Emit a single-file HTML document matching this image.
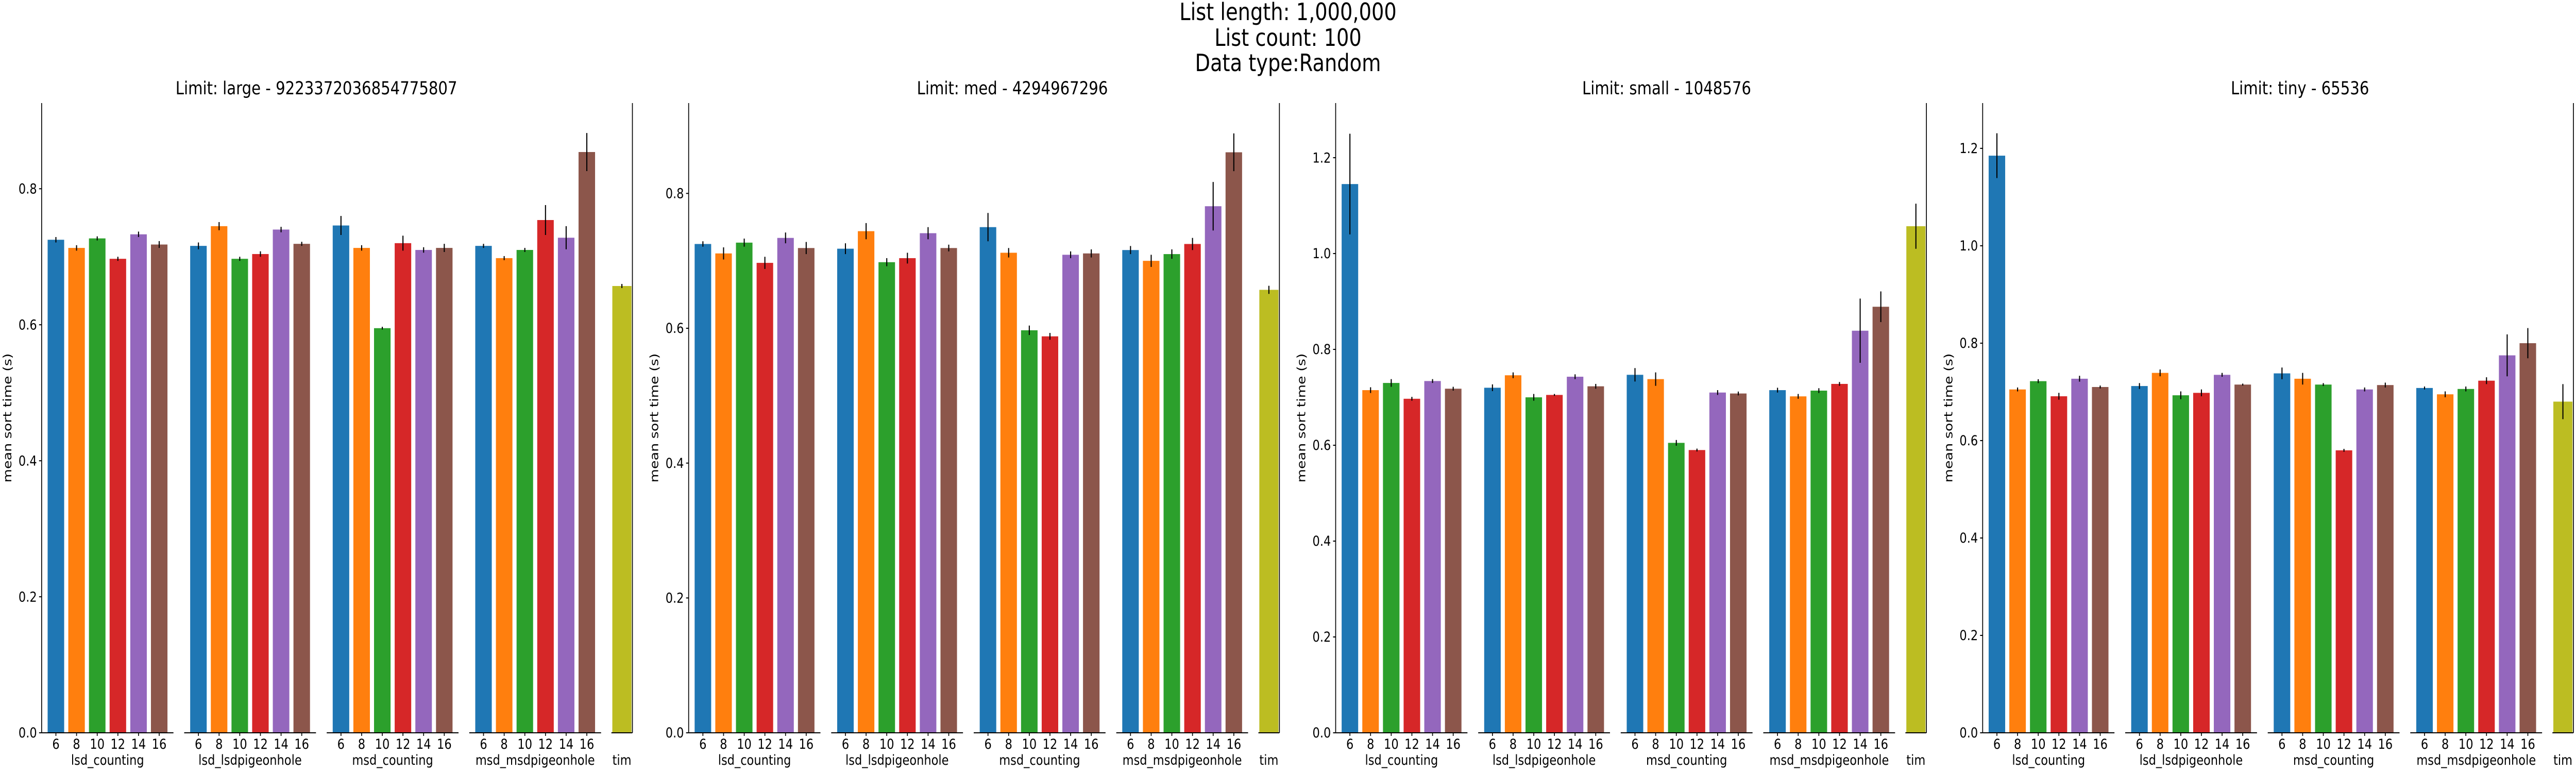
<!DOCTYPE html>
<html><head><meta charset="utf-8"><title>Sort timing chart</title>
<style>
html,body{margin:0;padding:0;background:#fff;overflow:hidden;width:100%;height:100%;}
svg{display:block;width:100vw;height:100vh;font-family:"DejaVu Sans","Liberation Sans",sans-serif;}
</style></head>
<body>
<svg id="chart" viewBox="0 0 6000 1500" preserveAspectRatio="none" xmlns="http://www.w3.org/2000/svg">
<g font-size="46" text-anchor="middle" fill="#000">
<text x="3000" y="39">List length: 1,000,000</text>
<text x="3000" y="89">List count: 100</text>
<text x="3000" y="138">Data type:Random</text>
</g>
</svg>
<script>
const algos = ['lsd_counting','lsd_lsdpigeonhole','msd_counting','msd_msdpigeonhole'];
const radixBits = ['6','8','10','12','14','16'];
const timLabel = 'tim';
const panelTitles = ['Limit: large - 9223372036854775807','Limit: med - 4294967296','Limit: small - 1048576','Limit: tiny - 65536'];
const panelKeys = ['large','med','small','tiny'];
const yMax = [0.926, 0.934, 1.314, 1.293];
const yTicksLarge = [0.0,0.2,0.4,0.6,0.8];
const yTicksMed = [0.0,0.2,0.4,0.6,0.8];
const yTicksSmall = [0.0,0.2,0.4,0.6,0.8,1.0,1.2];
const yTicksTiny = [0.0,0.2,0.4,0.6,0.8,1.0,1.2];

const meansLarge = [
 [0.725,0.713,0.727,0.697,0.733,0.718],
 [0.716,0.745,0.697,0.704,0.740,0.719],
 [0.746,0.713,0.595,0.720,0.710,0.713],
 [0.716,0.698,0.710,0.754,0.728,0.854]];
const errLarge = [
 [0.004,0.004,0.003,0.003,0.004,0.005],
 [0.005,0.006,0.003,0.004,0.004,0.003],
 [0.014,0.004,0.002,0.011,0.004,0.006],
 [0.003,0.003,0.003,0.022,0.017,0.028]];
const meansMed = [
 [0.725,0.711,0.727,0.697,0.734,0.719],
 [0.718,0.744,0.698,0.704,0.741,0.719],
 [0.750,0.712,0.597,0.588,0.709,0.711],
 [0.716,0.700,0.710,0.725,0.781,0.861]];
const errMed = [
 [0.004,0.009,0.006,0.009,0.008,0.009],
 [0.008,0.012,0.006,0.008,0.009,0.005],
 [0.021,0.007,0.007,0.005,0.005,0.006],
 [0.006,0.009,0.007,0.009,0.036,0.028]];
const meansSmall = [
 [1.145,0.715,0.730,0.697,0.734,0.718],
 [0.720,0.746,0.700,0.705,0.743,0.723],
 [0.747,0.738,0.605,0.590,0.710,0.708],
 [0.715,0.702,0.714,0.728,0.839,0.889]];
const errSmall = [
 [0.105,0.006,0.008,0.004,0.004,0.004],
 [0.007,0.006,0.007,0.002,0.005,0.005],
 [0.014,0.014,0.006,0.003,0.005,0.004],
 [0.005,0.005,0.005,0.004,0.067,0.032]];
const meansTiny = [
 [1.185,0.705,0.722,0.691,0.727,0.710],
 [0.712,0.739,0.693,0.698,0.735,0.715],
 [0.738,0.727,0.715,0.580,0.705,0.714],
 [0.708,0.695,0.706,0.723,0.775,0.800]];
const errTiny = [
 [0.046,0.004,0.004,0.007,0.006,0.003],
 [0.006,0.007,0.008,0.007,0.004,0.002],
 [0.012,0.012,0.003,0.003,0.004,0.005],
 [0.003,0.006,0.005,0.007,0.043,0.031]];
const timMeans = [0.657, 0.657, 1.057, 0.680];
const timErr = [0.003, 0.006, 0.047, 0.036];

const allMeans = [meansLarge, meansMed, meansSmall, meansTiny];
const allErr = [errLarge, errMed, errSmall, errTiny];
const allTicks = [yTicksLarge, yTicksMed, yTicksSmall, yTicksTiny];
const titleCenters = [737, 2358, 3882, 5357];

const colors = ['#1f77b4','#ff7f0e','#2ca02c','#d62728','#9467bd','#8c564b'];
const timColor = '#bcbd22';
const NS = 'http://www.w3.org/2000/svg';
const svg = document.getElementById('chart');
const BASE = 1422, TOP = 200, PANEL_STEP = 1507, X0 = 97;
const SUB_W = 307, SUB_STEP = 332, TIM_OFF = 1327, TIM_W = 49;

function mk(tag, attrs, parent){
  const e = document.createElementNS(NS, tag);
  for (const k in attrs) e.setAttribute(k, attrs[k]);
  (parent||svg).appendChild(e);
  return e;
}
function fmt(v){ return v.toFixed(1); }

for (let p = 0; p < 4; p++) {
  const x0 = X0 + p * PANEL_STEP;
  const yScale = v => BASE - v / yMax[p] * (BASE - TOP);
  const g = mk('g', {});
  
  

  const t = mk('text', {x: titleCenters[p], y: 183, 'font-size': 35, 'text-anchor': 'middle'}, g);
  
  
  t.textContent = panelTitles[p];

  const yl = mk('text', {x: 0, y: 0, 'font-size': 27, 'text-anchor': 'middle', 'dominant-baseline': 'central', transform: 'translate(' + (x0 - 80) + ',' + ((BASE + TOP) / 2) + ') rotate(-90)'}, g);
  
  
  yl.textContent = 'mean sort time (s)';

  const ls = mk('line', {x1: x0, y1: TOP, x2: x0, y2: BASE, stroke: '#000', 'stroke-width': 2}, g);
  
  

  allTicks[p].forEach(v => {
    const y = yScale(v);
    const tk = mk('line', {x1: x0 - 6, y1: y, x2: x0, y2: y, stroke: '#000', 'stroke-width': 2}, g);
    
    
    const tl = mk('text', {x: x0 - 11, y: y, 'font-size': 27, 'text-anchor': 'end', 'dominant-baseline': 'central'}, g);
    
    
    tl.textContent = fmt(v);
  });

  for (let k = 0; k < 4; k++) {
    const left = x0 + k * SUB_STEP;
    const pxu = SUB_W / 6.38;
    const xc = i => left + (i + 0.69) * pxu;
    const sg = mk('g', {}, g);
    
    
    allMeans[p][k].forEach((v, i) => {
      const cx = xc(i), y = yScale(v), bw = 0.8 * pxu;
      const r = mk('rect', {x: cx - bw / 2, y: y, width: bw, height: BASE - y, fill: colors[i]}, sg);
      
      
      const e = allErr[p][k][i];
      const el = mk('line', {x1: cx, x2: cx, y1: yScale(v + e), y2: yScale(v - e), stroke: '#000', 'stroke-width': 2.5}, sg);
      
      
      const tk = mk('line', {x1: cx, x2: cx, y1: BASE, y2: BASE + 6, stroke: '#000', 'stroke-width': 2}, sg);
      
      
      const tl = mk('text', {x: cx, y: 1453, 'font-size': 27, 'text-anchor': 'middle'}, sg);
      
      
      tl.textContent = radixBits[i];
    });
    const bl = mk('line', {x1: left, x2: left + SUB_W, y1: BASE, y2: BASE, stroke: '#000', 'stroke-width': 2}, sg);
    
    
    const gl = mk('text', {x: left + SUB_W / 2, y: 1484, 'font-size': 27, 'text-anchor': 'middle'}, sg);
    
    
    gl.textContent = algos[k];
  }

  const tl0 = x0 + TIM_OFF;
  const tpx = TIM_W / 0.88;
  const tcx = tl0 + TIM_W / 2;
  const tg = mk('g', {}, g);
  
  
  const ty = yScale(timMeans[p]);
  const tb = mk('rect', {x: tcx - 0.4 * tpx, y: ty, width: 0.8 * tpx, height: BASE - ty, fill: timColor}, tg);
  
  
  const te = mk('line', {x1: tcx, x2: tcx, y1: yScale(timMeans[p] + timErr[p]), y2: yScale(timMeans[p] - timErr[p]), stroke: '#000', 'stroke-width': 2.5}, tg);
  
  
  const tbl = mk('line', {x1: tl0, x2: tl0 + TIM_W, y1: BASE, y2: BASE, stroke: '#000', 'stroke-width': 2}, tg);
  
  
  const trs = mk('line', {x1: tl0 + TIM_W, x2: tl0 + TIM_W, y1: TOP, y2: BASE, stroke: '#000', 'stroke-width': 2}, tg);
  
  
  const ttl = mk('text', {x: tcx, y: 1484, 'font-size': 27, 'text-anchor': 'middle'}, tg);
  
  
  ttl.textContent = timLabel;
}
</script>
</body></html>
